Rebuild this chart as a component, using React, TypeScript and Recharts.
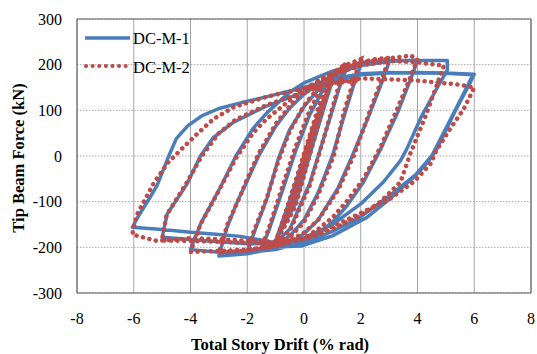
import React from "react";
import {
  LineChart,
  Line,
  XAxis,
  YAxis,
  CartesianGrid,
  ReferenceArea,
  Legend,
} from "recharts";

const driftTicks = [-8, -6, -4, -2, 0, 2, 4, 6, 8];
const forceTicks = [-300, -200, -100, 0, 100, 200, 300];
const seriesNames = ["DC-M-1", "DC-M-2"];

// [drift (% rad), force (kN)], in loading order
const dcm1: [number, number][] = [
  [0, 0], [0.2, 35], [0.375, 65], [0.3, 50], [0.1, 10], [-0.1, -30], [-0.375, -85], [-0.3, -70], [-0.1, -35], [0.05, 0],
  [0.2, 30], [0.5, 88], [0.4, 68], [0.1, 5], [-0.2, -60], [-0.5, -112], [-0.4, -92], [-0.1, -30], [0.1, 8],
  [0.4, 62], [0.75, 125], [0.6, 95], [0.2, 10], [-0.3, -88], [-0.75, -152], [-0.6, -124], [-0.2, -45], [0.15, 18],
  [0.5, 85], [1.0, 165], [0.8, 125], [0.3, 22], [-0.3, -105], [-1.0, -185], [-0.8, -150], [-0.3, -60], [0.2, 38],
  [0.6, 112], [1.0, 160], [1.5, 192], [1.25, 150], [0.7, 40], [0.2, -60], [-0.5, -160], [-1.0, -190], [-1.5, -203],
  [-1.25, -165], [-0.7, -65], [-0.3, 10], [0.2, 90],
  [0.7, 148], [1.3, 183], [2.0, 200], [1.8, 165], [1.4, 85], [1.0, 0], [0.5, -80], [0, -140], [-0.5, -175],
  [-1.0, -195], [-1.5, -205], [-2.0, -210], [-1.8, -175], [-1.3, -92], [-0.9, -5],
  [-0.5, 58], [0, 108], [0.5, 145], [1, 170], [1.5, 188], [2, 198], [2.5, 204], [3, 206], [2.8, 170], [2.3, 90],
  [1.7, 0], [1.2, -70], [0.5, -140], [0, -170], [-0.5, -190], [-1, -202], [-2, -214], [-3, -219],
  [-2.71, -156], [-2.35, -100], [-2.0, -54], [-1.6, 0], [-1.0, 65], [-0.5, 105], [0, 135], [0.5, 158], [1, 175],
  [1.5, 188], [2, 198], [3, 207], [4, 210], [3.8, 175], [3.3, 95], [2.7, 15], [2.1, -57], [1.5, -110], [1.0, -145],
  [0.5, -170], [0, -188], [-1, -205], [-2, -211], [-3, -211], [-4, -205],
  [-3.65, -149], [-2.95, -69], [-2.4, 0], [-1.8, 60], [-1.3, 95], [-0.5, 140], [0, 160], [1, 186], [2, 204],
  [2.5, 207], [3, 209], [4, 209], [5.05, 209], [5.05, 188], [4.7, 150], [4.15, 88], [3.62, 15], [3.4, -10],
  [2.8, -57], [2.0, -105], [1.0, -150], [0, -180], [-1, -192], [-2, -192], [-3, -188], [-4, -183], [-5, -178],
  [-4.82, -127], [-4.12, -61], [-3.65, 0], [-3.2, 40], [-2.48, 74], [-1.8, 95], [-1.3, 110], [0, 140], [1, 163],
  [2, 178], [3, 182], [4, 183], [5, 182], [6.0, 179], [5.85, 160], [5.3, 95], [4.68, 15], [4.4, -10], [4.04, -36],
  [3.15, -80], [1.98, -134], [1, -165], [0, -190], [-1, -190], [-2.24, -176], [-3, -172], [-4, -167], [-5, -161],
  [-6.05, -156],
  [-5.8, -128], [-5.5, -98], [-5.18, -65], [-4.8, -5], [-4.5, 38], [-4.1, 66], [-3.6, 88], [-3.0, 104],
  [-2.2, 117], [-1.3, 130], [0, 150], [1, 168], [2, 180], [3, 183], [4, 182], [5, 181], [5.95, 178], [5.8, 158],
  [5.2, 85], [4.5, 0], [3.87, -46], [3, -95], [2.23, -134], [1, -175], [-0.1, -197], [-1.2, -200],
];

const dcm2: [number, number][] = [
  [0, 0], [0.2, 40], [0.375, 70], [0.3, 55], [0.1, 15], [-0.1, -25], [-0.375, -80], [-0.3, -62], [-0.1, -25], [0.05, 5],
  [0.25, 45], [0.5, 92], [0.4, 72], [0.15, 15], [-0.2, -55], [-0.5, -115], [-0.4, -92], [-0.1, -28], [0.1, 12],
  [0.4, 70], [0.75, 130], [0.6, 100], [0.25, 25], [-0.3, -90], [-0.75, -158], [-0.6, -128], [-0.2, -40], [0.15, 25],
  [0.5, 95], [1.0, 172], [0.8, 135], [0.35, 35], [-0.3, -110], [-1.0, -190], [-0.8, -152], [-0.3, -55], [0.2, 45],
  [0.6, 125], [1.0, 170], [1.5, 205], [1.25, 160], [0.75, 50], [0.2, -65], [-0.5, -165], [-1.0, -190], [-1.5, -200],
  [-1.25, -160], [-0.7, -55], [-0.3, 20], [0.2, 100],
  [0.7, 160], [1.3, 195], [2.0, 212], [1.8, 175], [1.4, 95], [1.05, 0], [0.5, -85], [0, -145], [-0.5, -178],
  [-1.0, -195], [-1.5, -202], [-2.0, -205], [-1.8, -170], [-1.3, -90], [-0.9, -10],
  [-0.5, 55], [0, 110], [0.5, 150], [1, 178], [1.5, 195], [2, 205], [2.5, 212], [3, 215], [2.8, 178], [2.3, 95],
  [1.75, 0], [1.2, -75], [0.5, -140], [0, -168], [-0.5, -185], [-1, -197], [-2, -207], [-3, -212],
  [-2.7, -150], [-2.3, -95], [-2.0, -50], [-1.6, 5], [-1.0, 70], [-0.5, 110], [0, 140], [0.5, 165], [1, 182],
  [1.5, 195], [2, 205], [3, 214], [3.75, 220], [4, 212], [3.8, 180], [3.3, 105], [2.7, 20], [2.1, -50], [1.5, -100],
  [1.0, -135], [0.5, -160], [0, -180], [-1, -198], [-2, -205], [-3, -208], [-4, -210],
  [-3.65, -150], [-2.95, -70], [-2.4, -5], [-1.8, 50], [-1.3, 82], [-0.5, 122], [0, 148], [1, 178], [2, 198],
  [3, 208], [4, 205], [4.93, 198], [4.8, 176], [4.3, 90], [3.74, 4], [3.4, -57], [2.7, -100], [2.0, -130],
  [1.0, -160], [0, -182], [-1, -190], [-2, -190], [-3, -188], [-4, -186], [-5, -185],
  [-4.85, -130], [-4.15, -60], [-3.6, 0], [-3.0, 50], [-2.4, 80], [-1.3, 112], [0, 140], [1, 160], [2, 170],
  [3, 168], [4, 165], [5.2, 158], [5.6, 155], [6, 150], [5.63, 103], [5.1, 55], [4.6, 5], [4.5, -14], [3.9, -55],
  [3.0, -95], [2.0, -125], [1, -155], [0, -180], [-1, -188], [-2.2, -185], [-3, -182], [-4, -180], [-5.18, -186],
  [-6.05, -172],
  [-5.9, -130], [-5.3, -60], [-4.8, -15], [-4.4, 10], [-3.77, 48], [-3.19, 81], [-2.48, 107], [-1.3, 130],
  [0, 148], [1, 160], [2, 165],
];

const colors = ["#4A7EBB", "#BE4B48"];
const serif = "Liberation Serif, DejaVu Serif, serif";

const toRows = (pts: [number, number][]) => pts.map(([x, y]) => ({ x, y }));

const renderLegend = () => (
  <svg width={130} height={56}>
    <line x1={5} y1={13} x2={50} y2={13} stroke={colors[0]} strokeWidth={3.5} />
    <text x={53} y={13} dominantBaseline="central" style={{ fontFamily: serif, fontSize: 16.5 }} fill="#000">
      {seriesNames[0]}
    </text>
    <line
      x1={6}
      y1={41}
      x2={50}
      y2={41}
      stroke={colors[1]}
      strokeWidth={4}
      strokeDasharray="0.1 6.5"
      strokeLinecap="round"
    />
    <text x={53} y={42} dominantBaseline="central" style={{ fontFamily: serif, fontSize: 16.5 }} fill="#000">
      {seriesNames[1]}
    </text>
  </svg>
);

const XTitle = () => (
  <text
    x={280}
    y={344}
    textAnchor="middle"
    dominantBaseline="central"
    style={{ fontFamily: serif, fontSize: 16.5, fontWeight: "bold" }}
    fill="#000"
  >
    Total Story Drift (% rad)
  </text>
);

const YTitle = () => (
  <text
    x={18}
    y={158}
    transform="rotate(-90 18 158)"
    textAnchor="middle"
    dominantBaseline="central"
    style={{ fontFamily: serif, fontSize: 16.5, fontWeight: "bold" }}
    fill="#000"
  >
    Tip Beam Force (kN)
  </text>
);

const tickStyle = { style: { fontFamily: serif, fontSize: 16 }, fill: "#000" };

export default function App() {
  return (
    <div style={{ position: "absolute", left: 0, top: 0, width: 537, height: 354, background: "#fff" }}>
      <LineChart width={537} height={354} margin={{ top: 19, right: 6, bottom: 0, left: 0 }}>
        <CartesianGrid horizontal={false} stroke="#A6A6A6" />
        <CartesianGrid vertical={false} stroke="#A6A6A6" strokeDasharray="1.5 1.5" />
        <XAxis
          type="number"
          dataKey="x"
          domain={[-8, 8]}
          ticks={driftTicks}
          axisLine={false}
          tickLine={false}
          tickSize={8}
          tickMargin={12}
          height={61}
          tick={tickStyle}
          label={<XTitle />}
        />
        <YAxis
          type="number"
          dataKey="y"
          domain={[-300, 300]}
          ticks={forceTicks}
          axisLine={false}
          tickLine={false}
          tickSize={5}
          tickMargin={10}
          width={77}
          tick={tickStyle}
          label={<YTitle />}
        />
        <ReferenceArea x1={-8} x2={8} y1={-300} y2={300} fill="none" stroke="#595959" strokeWidth={1} />
        <Legend
          layout="vertical"
          align="center"
          verticalAlign="middle"
          content={renderLegend}
          wrapperStyle={{ left: 80, top: 25, width: 130, height: 56 }}
        />
        <Line
          data={toRows(dcm1)}
          dataKey="y"
          name={seriesNames[0]}
          type="linear"
          stroke={colors[0]}
          strokeWidth={3.5}
          strokeLinejoin="round"
          dot={false}
          activeDot={false}
          isAnimationActive={false}
        />
        <Line
          data={toRows(dcm2)}
          dataKey="y"
          name={seriesNames[1]}
          type="linear"
          stroke={colors[1]}
          strokeWidth={4.5}
          strokeDasharray="0.1 6.5"
          strokeLinecap="round"
          dot={false}
          activeDot={false}
          isAnimationActive={false}
        />
      </LineChart>
    </div>
  );
}
